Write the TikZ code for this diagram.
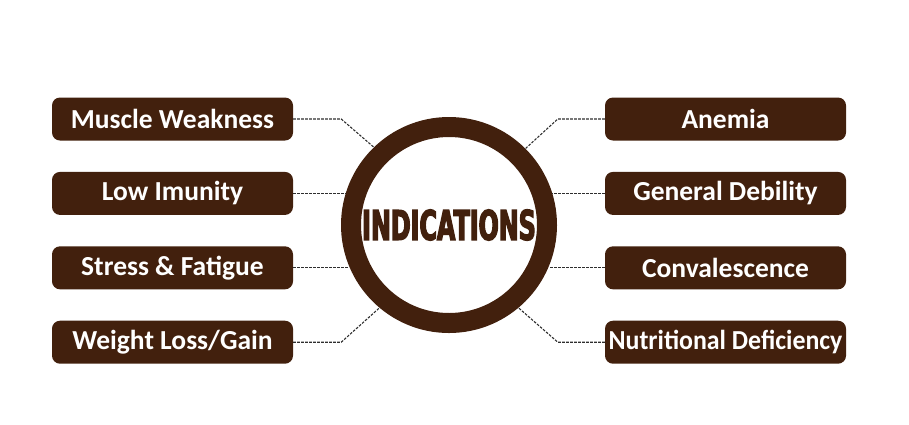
\documentclass[tikz,border=0pt]{standalone}
\usepackage{graphicx}
\usepackage{fontspec}
\setmainfont{Carlito}
\newfontfamily\headfont[FakeStretch=0.58,FakeBold=3]{DejaVu Sans}
\usetikzlibrary{positioning}
\definecolor{indbrown}{HTML}{42200D}
\definecolor{inddash}{HTML}{2E2E2E}

\begin{document}
\begin{tikzpicture}[x=1pt,y=-1pt,
      item/.style={rounded corners=8pt,fill=indbrown,text=white,minimum width=241pt,
        minimum height=43pt,inner sep=0pt,font=\fontsize{27.5}{29}\selectfont\bfseries},
      link/.style={draw=inddash,line width=1.1pt,dash pattern=on 2.6pt off 1.4pt}]
    \useasboundingbox (0,0) rectangle (909,424);
    \node[circle,draw=indbrown,line width=20pt,fill=white,minimum size=196pt,inner sep=0pt,
      text=indbrown,font=\headfont\bfseries\fontsize{41}{41}\selectfont] (ind) at (449,225) {INDICATIONS};
    % left column
    \node[item] (mw) at (172.5,119) {Muscle Weakness};
    \node[item,below=31pt of mw] (li) {Low Imunity};
    \node[item,below=31pt of li] (sf) {Stress \& Fatigue};
    \node[item,below=31pt of sf] (wl) {Weight Loss/Gain};
    % right column
    \node[item] (an) at (725.5,119) {Anemia};
    \node[item,below=31pt of an] (gd) {General Debility};
    \node[item,below=31pt of gd] (cv) {Convalescence};
    \node[item,below=31pt of cv] (nd) {\scalebox{0.94}[1]{Nutritional Deficiency}};
    \draw[link] (mw.east) -- ++(48,0) -- (ind.134);
    \draw[link] (li.east) -- (li.east -| ind.162);
    \draw[link] (sf.east) -- (sf.east -| ind.202);
    \draw[link] (wl.east) -- ++(48,0) -- (ind.230);
    \draw[link] (an.west) -- ++(-47,0) -- (ind.45);
    \draw[link] (gd.west) -- (gd.west -| ind.18);
    \draw[link] (cv.west) -- (cv.west -| ind.-22);
    \draw[link] (nd.west) -- ++(-47,0) -- (ind.-50);
  \end{tikzpicture}
\end{document}
